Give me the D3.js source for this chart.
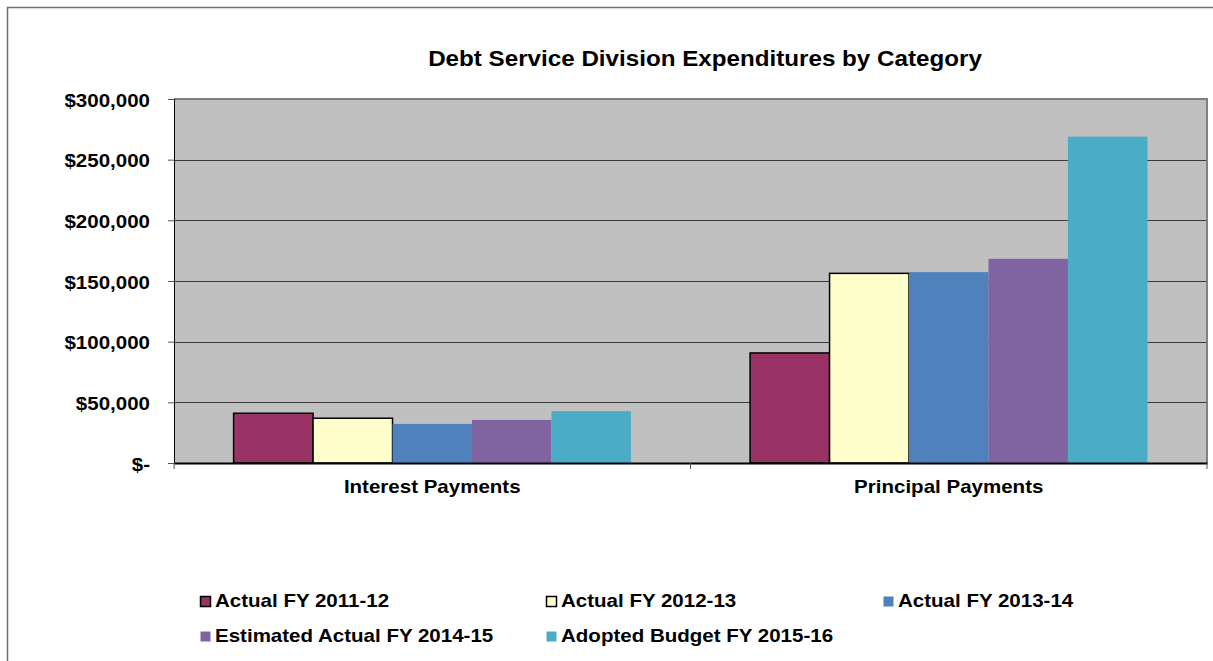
<!DOCTYPE html>
<html>
<head>
<meta charset="utf-8">
<script src="https://cdn.jsdelivr.net/npm/d3@7"></script>
<style>
  html, body { margin: 0; padding: 0; background: #fff; }
  svg { display: block; font-family: "Liberation Sans", Arial, sans-serif; font-weight: bold; }
</style>
</head>
<body>
<svg id="chart" width="1213" height="661"></svg>
<script>
// Debt service expenditures by category and fiscal year
const categories = ["Interest Payments", "Principal Payments"];
const seriesNames = [
  "Actual FY 2011-12",
  "Actual FY 2012-13",
  "Actual FY 2013-14",
  "Estimated Actual FY 2014-15",
  "Adopted Budget FY 2015-16"
];
const actual1112 = [41000, 90700];
const actual1213 = [36900, 156300];
const actual1314 = [32200, 157300];
const estimated1415 = [35500, 168300];
const adopted1516 = [42700, 269000];
const yTicks = [0, 50000, 100000, 150000, 200000, 250000, 300000];

const seriesValues = [actual1112, actual1213, actual1314, estimated1415, adopted1516];
const fills = ["#993366", "#FFFFCC", "#4F81BD", "#8064A2", "#4BACC6"];
const outlined = [true, true, false, false, false];

const svg = d3.select("#chart");
const plot = { left: 174, right: 1207, top: 99, bottom: 463 };
const stretch = 1.14;
const labelSize = 18;

// outer chart frame
svg.append("rect")
  .attr("x", 7.5).attr("y", 7.5)
  .attr("width", 1300).attr("height", 700)
  .attr("fill", "none").attr("stroke", "#6e6e6e").attr("stroke-width", 1.5);

// title
svg.append("text")
  .attr("transform", `translate(705,66) scale(1.1,1)`)
  .attr("text-anchor", "middle")
  .attr("font-size", 22)
  .attr("fill", "#000")
  .text("Debt Service Division Expenditures by Category");

const x0 = d3.scaleBand().domain(categories).range([plot.left, plot.right]).padding(0);
const x1 = d3.scaleBand().domain(d3.range(seriesNames.length))
  .range([0, x0.bandwidth()]).paddingInner(0).paddingOuter(0.75);
const y = d3.scaleLinear().domain([0, 300000]).range([plot.bottom, plot.top]);

// plot background
svg.append("rect")
  .attr("x", plot.left).attr("y", plot.top)
  .attr("width", plot.right - plot.left).attr("height", plot.bottom - plot.top)
  .attr("fill", "#C0C0C0");

// gridlines
svg.append("g").selectAll("line")
  .data(yTicks.filter(d => d > 0 && d < 300000))
  .join("line")
  .attr("x1", plot.left).attr("x2", plot.right)
  .attr("y1", d => Math.round(y(d)) + 0.5).attr("y2", d => Math.round(y(d)) + 0.5)
  .attr("stroke", "#3a3a3a").attr("stroke-width", 1);

// plot border (top and right)
svg.append("path")
  .attr("d", `M${plot.left},${plot.top} H${plot.right} V${plot.bottom}`)
  .attr("fill", "none").attr("stroke", "#808080").attr("stroke-width", 2);

// bars
const groups = svg.append("g").selectAll("g")
  .data(seriesValues)
  .join("g");
groups.selectAll("rect")
  .data((vals, si) => vals.map((v, ci) => ({ v, ci, si })))
  .join("rect")
  .attr("x", d => x0(categories[d.ci]) + x1(d.si))
  .attr("y", d => y(d.v))
  .attr("width", x1.bandwidth())
  .attr("height", d => y(0) - y(d.v))
  .attr("fill", d => fills[d.si])
  .attr("stroke", d => outlined[d.si] ? "#000" : "none")
  .attr("stroke-width", 1.5);

// value axis
const yAxis = svg.append("g")
  .attr("transform", `translate(${plot.left},0)`)
  .call(d3.axisLeft(y).tickValues(yTicks).tickSize(6).tickPadding(0)
    .tickFormat(d => d === 0 ? "$-" : "$" + d3.format(",")(d)));
yAxis.select(".domain").attr("stroke", "#000").attr("stroke-width", 1);
yAxis.selectAll(".tick line").attr("stroke", "#555");
yAxis.selectAll(".tick text")
  .attr("x", 0).attr("dy", null)
  .attr("transform", `translate(-24,7) scale(${stretch},1)`)
  .attr("font-size", labelSize).attr("font-family", null).attr("fill", "#000");

// category axis
const xAxis = svg.append("g")
  .attr("transform", `translate(0,${plot.bottom})`)
  .call(d3.axisBottom(x0).tickSize(0).tickPadding(0));
xAxis.select(".domain").attr("stroke", "#000").attr("stroke-width", 2);
xAxis.selectAll(".tick text")
  .attr("y", 0).attr("dy", null)
  .attr("transform", `translate(0,30) scale(${stretch},1)`)
  .attr("font-size", labelSize).attr("font-family", null).attr("fill", "#000");
// category boundary ticks
svg.append("g").selectAll("line")
  .data([0, 1, 2])
  .join("line")
  .attr("x1", i => plot.left + i * x0.step()).attr("x2", i => plot.left + i * x0.step())
  .attr("y1", plot.bottom).attr("y2", plot.bottom + 6)
  .attr("stroke", "#555").attr("stroke-width", 1);

// legend
const legendCols = [200, 546, 883];
const legendRows = [607, 642];
const legend = svg.append("g").selectAll("g")
  .data(seriesNames)
  .join("g")
  .attr("transform", (d, i) => `translate(${legendCols[i % 3]},${legendRows[Math.floor(i / 3)]})`);
legend.append("rect")
  .attr("x", 0.5).attr("y", -10.5)
  .attr("width", 10).attr("height", 10)
  .attr("fill", (d, i) => fills[i])
  .attr("stroke", (d, i) => outlined[i] ? "#000" : "none")
  .attr("stroke-width", 1.5);
legend.append("text")
  .attr("transform", `translate(15,0) scale(${stretch},1)`)
  .attr("font-size", labelSize)
  .attr("fill", "#000")
  .text(d => d);
</script>
</body>
</html>
